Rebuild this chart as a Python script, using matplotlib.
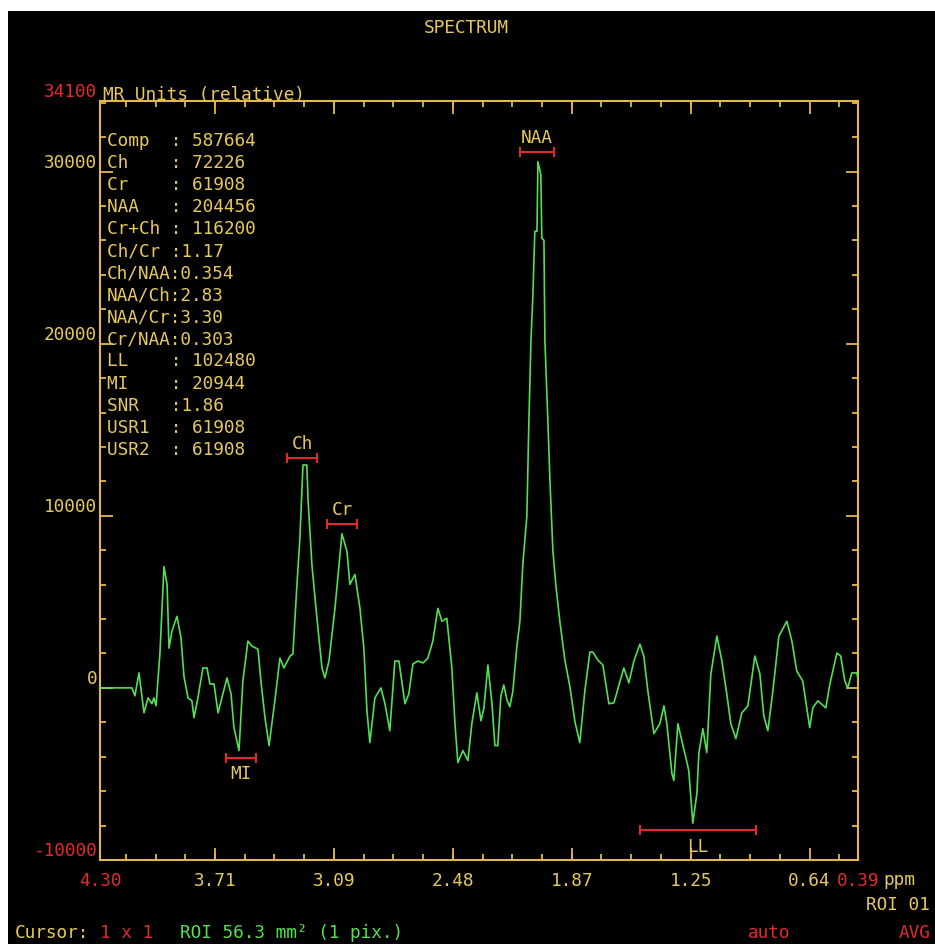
import numpy as np
import matplotlib
matplotlib.use('Agg')
import matplotlib.pyplot as plt
from matplotlib.patches import Rectangle

# spectrum (ppm, MR units)
ppm = [4.300, 4.135, 4.120, 4.099, 4.073, 4.052, 4.032, 4.022, 4.011, 3.991,
       3.970, 3.954, 3.944, 3.929, 3.903, 3.882, 3.867, 3.846, 3.826, 3.815,
       3.795, 3.769, 3.748, 3.733, 3.712, 3.691, 3.666, 3.645, 3.624, 3.609,
       3.583, 3.563, 3.537, 3.516, 3.485, 3.470, 3.449, 3.428, 3.398, 3.372,
       3.351, 3.320, 3.305, 3.284, 3.269, 3.253, 3.233, 3.227, 3.207, 3.181,
       3.155, 3.140, 3.119, 3.088, 3.052, 3.026, 3.011, 2.985, 2.959, 2.939,
       2.923, 2.908, 2.882, 2.851, 2.830, 2.805, 2.779, 2.758, 2.727, 2.707,
       2.686, 2.660, 2.634, 2.609, 2.583, 2.557, 2.536, 2.511, 2.485, 2.469,
       2.454, 2.428, 2.402, 2.382, 2.356, 2.335, 2.320, 2.299, 2.278, 2.263,
       2.248, 2.232, 2.217, 2.201, 2.186, 2.170, 2.150, 2.134, 2.119, 2.098,
       2.088, 2.077, 2.067, 2.057, 2.046, 2.041, 2.026, 2.021, 2.010, 2.005,
       1.990, 1.979, 1.964, 1.948, 1.928, 1.902, 1.876, 1.850, 1.825, 1.799,
       1.773, 1.758, 1.732, 1.706, 1.675, 1.649, 1.598, 1.572, 1.546, 1.515,
       1.495, 1.474, 1.443, 1.412, 1.391, 1.376, 1.350, 1.340, 1.319, 1.299,
       1.278, 1.263, 1.242, 1.221, 1.211, 1.190, 1.170, 1.149, 1.118, 1.092,
       1.067, 1.046, 1.020, 0.989, 0.958, 0.922, 0.896, 0.876, 0.855, 0.829,
       0.798, 0.757, 0.731, 0.706, 0.675, 0.639, 0.623, 0.597, 0.556, 0.535,
       0.499, 0.479, 0.458, 0.443, 0.422, 0.396, 0.391]
intensity = [0, 0, -460, 870, -1450, -580, -920, -580, -1040, 1970,
             7050, 6010, 2310, 3290, 4160, 2890, 690, -580, -750, -1730,
             -580, 1160, 1160, 230, 230, -1450, -350, 580, -350, -2310,
             -3640, 400, 2720, 2430, 2250, 400, -1730, -3350, -750, 1730,
             1160, 1850, 1970, 6010, 8670, 12950, 12950, 10980, 7170, 4050,
             1160, 580, 1560, 4620, 8960, 7920, 6010, 6590, 4620, 2310,
             -1330, -3180, -580, 0, -920, -2490, 1560, 1560, -920, -350,
             1390, 1560, 1450, 1730, 2720, 4620, 3870, 4050, 1160, -2080,
             -4340, -3640, -4220, -2080, -290, -1910, -1210, 1330, -920, -3350,
             -3350, -460, 170, -690, -1100, -170, 2370, 3870, 7170, 10000,
             15320, 20170, 22830, 26530, 26530, 30580, 29820, 26130, 26010, 20170,
             15610, 12020, 7980, 5900, 3870, 1620, 60, -1970, -3180, -170,
             2080, 2080, 1620, 1330, -920, -870, 1160, 290, 1560, 2540,
             1850, -170, -2660, -2080, -1040, -2080, -4970, -5380, -2080, -3060,
             -4050, -4800, -7860, -6130, -3810, -2370, -3760, 810, 3010, 1560,
             -350, -2080, -2950, -1450, -1040, 1850, 810, -1620, -2490, -170,
             3010, 3870, 2720, 980, 400, -2310, -1160, -750, -1160, 230,
             2020, 1850, 400, 0, 870, 870, 580]

# integration regions
peak_names = ['NAA', 'Ch', 'Cr', 'MI', 'LL']
peak_lo = [1.959, 3.181, 2.975, 3.496, 0.917]
peak_hi = [2.134, 3.336, 3.129, 3.650, 1.515]
peak_level = [31150, 13350, 9540, -4050, -8270]
peak_above = [True, True, True, False, False]

# results table
res_names = ['Comp', 'Ch', 'Cr', 'NAA', 'Cr+Ch', 'Ch/Cr', 'Ch/NAA', 'NAA/Ch',
             'NAA/Cr', 'Cr/NAA', 'LL', 'MI', 'SNR', 'USR1', 'USR2']
res_values = [' 587664', ' 72226', ' 61908', ' 204456', ' 116200', '1.17', '0.354', '2.83',
              '3.30', '0.303', ' 102480', ' 20944', '1.86', ' 61908', ' 61908']

x_ticks = [4.30, 3.707, 3.093, 2.48, 1.867, 1.253, 0.64, 0.39]
x_labels = ['4.30', '3.71', '3.09', '2.48', '1.87', '1.25', '0.64', '0.39']
y_ticks = [-10000, 0, 10000, 20000, 30000, 34100]
y_labels = ['-10000', '0', '10000', '20000', '30000', '34100']

YEL = '#e6c85c'
AXC = '#e2b84a'
RED = '#e02a2a'
GRN = '#52e052'

plt.rcParams['font.family'] = ['DejaVu Sans Mono']
FS = 12.8

W, H = 935, 944
def fx(x):
    return x / W
def fy(y):
    return 1 - y / H

fig = plt.figure(figsize=(W / 100, H / 100), dpi=100, facecolor='white')
fig.patches.append(Rectangle((fx(8), 0), 1 - fx(8), fy(11), transform=fig.transFigure,
                             facecolor='black', edgecolor='none', zorder=-10))

ax = fig.add_axes([fx(100), fy(860), fx(858) - fx(100), fy(101) - fy(860)])
ax.set_facecolor('black')
ax.plot(ppm, intensity, color=GRN, lw=1.2, zorder=3)

ax.set_xlim(4.30, 0.39)
ax.set_ylim(-10000, 34100)

for s in ax.spines.values():
    s.set_color(AXC)
    s.set_linewidth(1.5)

ax.set_xticks(x_ticks, x_labels)
ax.set_xticks(np.arange(0.64 - 0.15333, 4.25, 0.15333), minor=True)
ax.set_yticks(y_ticks, y_labels)
ax.set_yticks(np.arange(-10000, 34100, 2000), minor=True)
ax.tick_params(which='both', direction='in', top=True, right=True, color=AXC,
               labelsize=FS, labelcolor=YEL)
ax.tick_params(which='major', length=9, width=1.3)
ax.tick_params(which='minor', length=4.5, width=1.3)
ax.tick_params(axis='x', pad=8.5)
ax.tick_params(axis='y', pad=2)
for lab in ax.get_yticklabels():
    lab.set_va('bottom')
ax.get_yticklabels()[0].set_color(RED)
ax.get_yticklabels()[-1].set_color(RED)
ax.get_xticklabels()[0].set_color(RED)
ax.get_xticklabels()[-1].set_color(RED)

# region bars with names
for name, lo, hi, lev, up in zip(peak_names, peak_lo, peak_hi, peak_level, peak_above):
    c = (lo + hi) / 2
    ax.errorbar(c, lev, xerr=(hi - lo) / 2, fmt='none', ecolor=RED, elinewidth=1.5,
                capsize=3.5, capthick=1.5, zorder=4)
    ax.annotate(name, xy=(c, lev), xytext=(0, 3.5 if up else -5.5),
                textcoords='offset points', ha='center',
                va='bottom' if up else 'top', color=YEL, fontsize=FS)

# results table on the left
for i, (n, v) in enumerate(zip(res_names, res_values)):
    fig.text(fx(107), fy(145.5 + 22.1 * i), f"{n:<6}:{v}", color=YEL,
             fontsize=FS, va='baseline', ha='left')

fig.text(fx(466), fy(28), 'SPECTRUM', color=YEL, fontsize=FS, ha='center', va='center')
fig.text(fx(103), fy(100), 'MR Units (relative)', color=YEL, fontsize=FS,
         ha='left', va='baseline')
fig.text(fx(883), fy(880), 'ppm', color=YEL, fontsize=FS, ha='left', va='center')
fig.text(fx(866), fy(905), 'ROI 01', color=YEL, fontsize=FS, ha='left', va='center')
fig.text(fx(15), fy(938), 'Cursor:', color=YEL, fontsize=FS, ha='left', va='baseline')
fig.text(fx(100), fy(938), '1 x 1', color=RED, fontsize=FS, ha='left', va='baseline')
fig.text(fx(180), fy(938), 'ROI 56.3 mm² (1 pix.)', color=GRN, fontsize=FS,
         ha='left', va='baseline')
fig.text(fx(748), fy(938), 'auto', color=RED, fontsize=FS, ha='left', va='baseline')
fig.text(fx(899), fy(938), 'AVG', color=RED, fontsize=FS, ha='left', va='baseline')

fig.savefig('out.png', dpi=100, facecolor='white')
